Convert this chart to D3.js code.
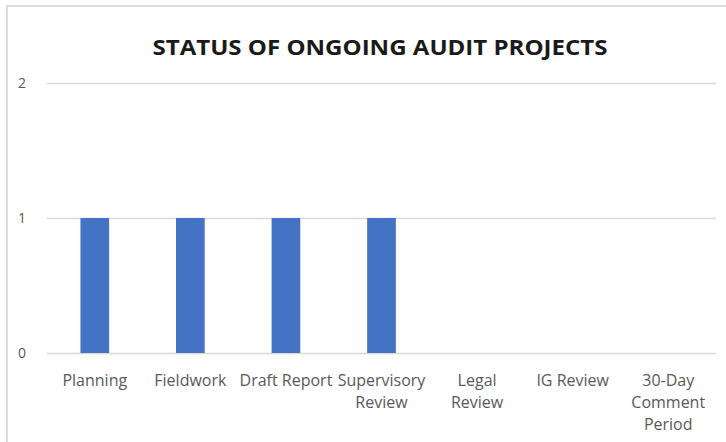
<!doctype html>
<html lang="en">
<head>
  <meta charset="utf-8">
  <title>Status of ongoing audit projects</title>
  <script src="https://d3js.org/d3.v7.min.js"></script>
  <style>
    html, body { margin: 0; padding: 0; background: #fff; }
    svg { display: block; font-family: "Open Sans", sans-serif; }
    .grid line { stroke: #d9d9d9; stroke-width: 1.5; }
    .tick text { fill: #595959; }
  </style>
</head>
<body>
  <div id="chart"></div>
  <script>
    const categories = ["Planning", "Fieldwork", "Draft Report", "Supervisory Review",
                        "Legal Review", "IG Review", "30-Day Comment Period"];
    // label line breaks as drawn in the chart
    const labelLines = [["Planning"], ["Fieldwork"], ["Draft Report"], ["Supervisory", "Review"],
                        ["Legal", "Review"], ["IG Review"], ["30-Day", "Comment", "Period"]];
    const values = [1, 1, 1, 1, 0, 0, 0];
    const yTicks = [0, 1, 2];

    const width = 726, height = 442;
    const margin = { top: 83, right: 10, bottom: 89, left: 47 };
    const innerW = 716 - margin.left;
    const innerH = 353 - margin.top;

    const svg = d3.select('#chart').append('svg')
      .attr('width', width).attr('height', height);

    // chart frame
    svg.append('path')
      .attr('d', `M7,${height} V6 H${width}`)
      .attr('fill', 'none').attr('stroke', '#dcdcdc').attr('stroke-width', 2);

    svg.append('text')
      .attr('x', 380).attr('y', 55)
      .attr('text-anchor', 'middle')
      .attr('font-size', 22).attr('font-weight', 'bold')
      .attr('fill', '#1a1a1a')
      .attr('textLength', 455).attr('lengthAdjust', 'spacingAndGlyphs')
      .text('STATUS OF ONGOING AUDIT PROJECTS');

    const g = svg.append('g').attr('transform', `translate(${margin.left},${margin.top})`);

    const x = d3.scaleBand().domain(categories).range([0, innerW]).paddingInner(0.7).paddingOuter(0.35);
    const y = d3.scaleLinear().domain([0, 2]).range([innerH, 0]);

    const yAxis = g.append('g').attr('class', 'grid')
      .call(d3.axisLeft(y).tickValues(yTicks).tickFormat(d3.format('d')).tickSize(-innerW).tickPadding(21));
    yAxis.select('.domain').remove();
    yAxis.selectAll('.tick text').attr('font-size', 14).attr('font-family', '"Open Sans", sans-serif')
      .attr('fill', '#7f7f7f');

    g.selectAll('rect.bar').data(values).join('rect')
      .attr('class', 'bar')
      .attr('x', (d, i) => x(categories[i]))
      .attr('width', x.bandwidth())
      .attr('y', d => y(d))
      .attr('height', d => innerH - y(d))
      .attr('fill', '#4472c4');

    const xAxis = g.append('g').attr('transform', `translate(0,${innerH})`)
      .call(d3.axisBottom(x).tickSize(0).tickFormat(''));
    xAxis.select('.domain').remove();
    xAxis.selectAll('.tick').each(function(d, i) {
      const t = d3.select(this).append('text')
        .attr('fill', '#4d4d4d').attr('font-size', 16)
        .attr('font-family', '"Open Sans", sans-serif')
        .attr('text-anchor', 'middle');
      labelLines[i].forEach((line, j) => {
        t.append('tspan').attr('x', 0).attr('y', 33 + j * 22).text(line);
      });
    });
  </script>
</body>
</html>
